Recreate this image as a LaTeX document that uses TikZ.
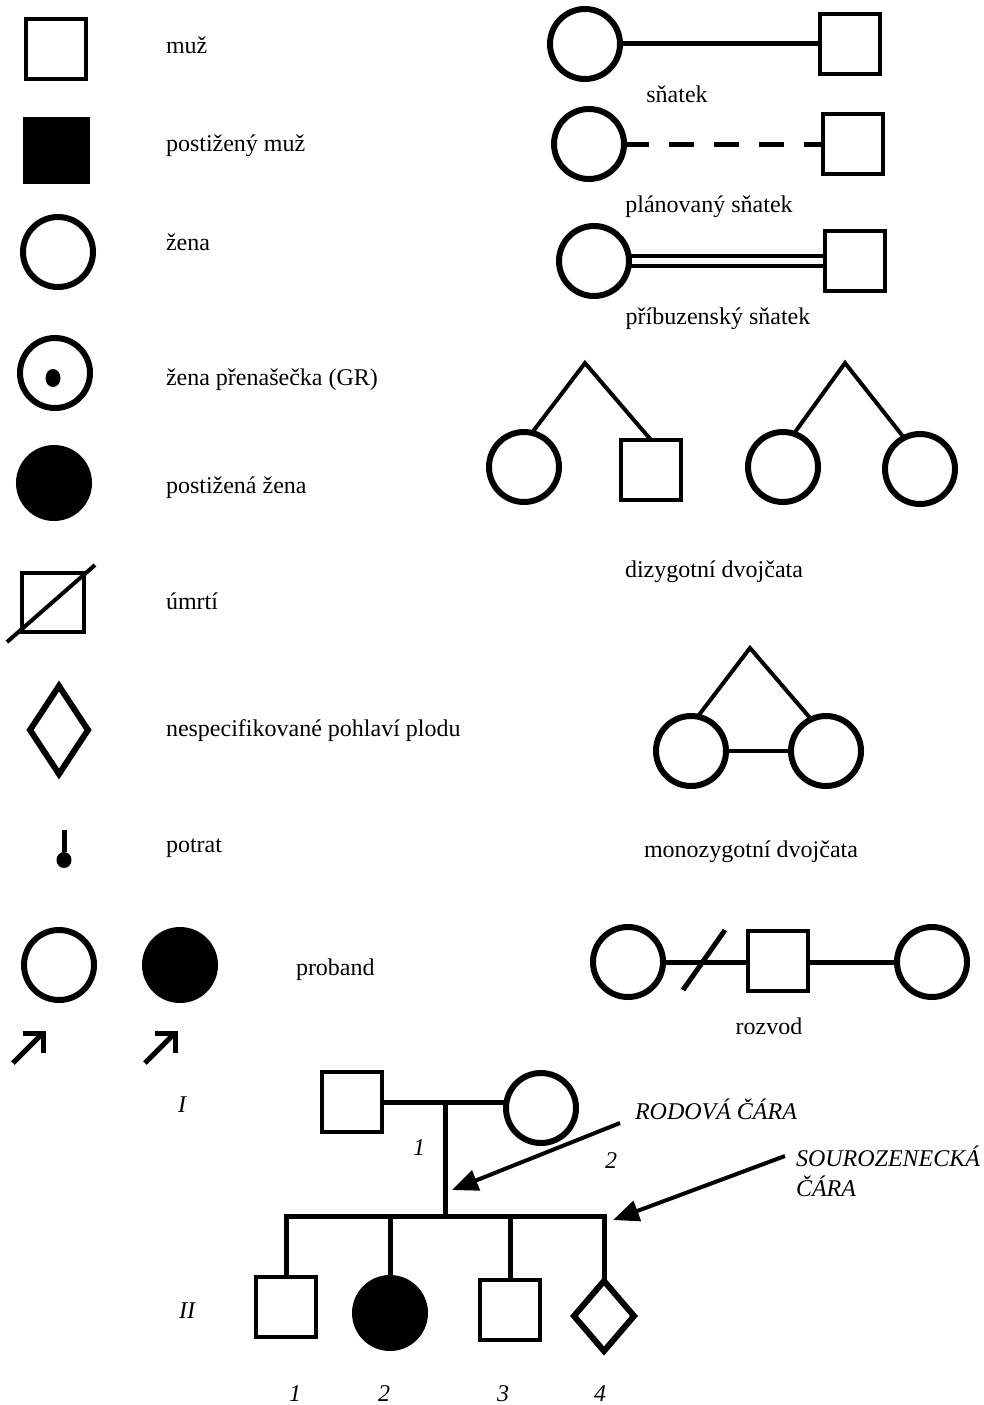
\documentclass[tikz,border=0pt]{standalone}
\usepackage{fontspec}
\setmainfont{Liberation Serif}
\usetikzlibrary{shapes.geometric,arrows.meta}
\begin{document}
\begin{tikzpicture}[x=1pt,y=-1pt,
  every node/.style={inner sep=0pt,outer sep=0pt},
  male/.style={draw,rectangle,minimum size=60pt,line width=4pt},
  affm/.style={male,fill=black,minimum size=63pt},
  female/.style={draw,circle,minimum size=70pt,line width=6pt},
  afff/.style={female,fill=black},
  fetus/.style={draw,diamond,line width=6pt},
  lbl/.style={font=\fontsize{24}{28}\selectfont,anchor=base west},
  clbl/.style={font=\fontsize{24}{28}\selectfont,anchor=base},
  ilbl/.style={font=\fontsize{24}{28}\selectfont\itshape,anchor=base},
  iwlbl/.style={font=\fontsize{24}{28}\selectfont\itshape,anchor=base west},
  link/.style={line width=5pt},
  twin/.style={line width=4pt},
  ped/.style={line width=5pt,line join=miter},
  callout/.style={line width=4pt,-{Triangle[length=26pt,width=21pt]}},
  barb/.style={line width=5pt,line join=miter},
  dot/.style={fill=black,ellipse}
]
\useasboundingbox (0,0) rectangle (983,1405);

% ---------- left legend ----------
\node[male] (lm) at (56,49) {};
\node[lbl] (tlm) at (166,54) {muž};

\node[affm] (lam) at (56,150) {};
\node[lbl] (tlam) at (166,151) {postižený muž};

\node[female] (lf) at (58,252) {};
\node[lbl] (tlf) at (166,250) {žena};

\node[female] (lc) at (55,373) {};
\node[dot,minimum width=15pt,minimum height=18pt] (lcd) at (53,378) {};
\node[lbl] (tlc) at (166,385) {žena přenašečka (GR)};

\node[afff] (laf) at (54,483) {};
\node[lbl] (tlaf) at (166,493) {postižená žena};

\node[male,minimum width=62pt,minimum height=59pt] (ld) at (53,602) {};
\coordinate (ds1) at (7,642);
\coordinate (ds2) at (95,565);
\draw[twin] (ds1) -- (ds2);
\node[lbl] (tld) at (166,609) {úmrtí};

\node[fetus,minimum width=58pt,minimum height=88pt] (lu) at (59,730) {};
\node[lbl] (tlu) at (166,736) {nespecifikované pohlaví plodu};

\coordinate (pt) at (64,830);
\node[dot,minimum width=15pt,minimum height=16pt] (ptd) at (64,860) {};
\draw[link] (pt) -- (ptd);
\node[lbl] (tpt) at (166,852) {potrat};

\node[female] (pb1) at (59,965) {};
\node[afff] (pb2) at (180,965) {};
\coordinate (pa1s) at (13,1063);
\coordinate (pa1t) at (43,1033);
\coordinate (pa2s) at (145,1063);
\coordinate (pa2t) at (175,1033);
\draw[barb] (pa1s) -- (pa1t);
\draw[barb] (pa1t) +(-20,0) -- (pa1t) -- +(0,20);
\draw[barb] (pa2s) -- (pa2t);
\draw[barb] (pa2t) +(-20,0) -- (pa2t) -- +(0,20);
\node[lbl] (tpb) at (296,975) {proband};

% ---------- right legend: marriages ----------
\node[female] (s1f) at (585,44) {};
\node[male] (s1m) at (850,44) {};
\draw[link] (s1f) -- (s1m);
\node[clbl] (ts1) at (677,102) {sňatek};

\node[female] (s2f) at (589,144) {};
\node[male] (s2m) at (853,144) {};
\draw[link,dash pattern=on 25pt off 20pt] (s2f) -- (s2m);
\node[clbl] (ts2) at (709,212) {plánovaný sňatek};

\node[female] (s3f) at (594,261) {};
\node[male] (s3m) at (855,261) {};
\draw[line width=4.5pt] ([yshift=5pt]s3f.east) -- ([yshift=5pt]s3m.west);
\draw[line width=4.5pt] ([yshift=-5pt]s3f.east) -- ([yshift=-5pt]s3m.west);
\node[clbl] (ts3) at (718,324) {příbuzenský sňatek};

% ---------- twins ----------
\coordinate (dz1) at (585,363);
\node[female] (dz1a) at (524,467) {};
\node[male] (dz1b) at (651,470) {};
\draw[twin] (dz1a.77) -- (dz1) -- (dz1b.north);
\coordinate (dz2) at (845,363);
\node[female] (dz2a) at (783,467) {};
\node[female] (dz2b) at (920,469) {};
\draw[twin] (dz2a.72) -- (dz2) -- (dz2b.117);
\node[clbl] (tdz) at (714,577) {dizygotní dvojčata};

\coordinate (mz) at (750,648);
\node[female] (mza) at (691,751) {};
\node[female] (mzb) at (826,751) {};
\draw[twin] (mza.79) -- (mz) -- (mzb.115);
\draw[twin] (mza) -- (mzb);
\node[clbl] (tmz) at (751,857) {monozygotní dvojčata};

% ---------- divorce ----------
\node[female] (r1) at (628,962) {};
\node[male] (r2) at (778,961) {};
\node[female] (r3) at (932,962) {};
\draw[link] (r1) -- (r1 -| r2.west);
\draw[link] (r2.east |- r3) -- (r3);
\coordinate (rs1) at (683,990);
\coordinate (rs2) at (725,930);
\draw[link] (rs1) -- (rs2);
\node[clbl] (tr) at (769,1034) {rozvod};

% ---------- pedigree ----------
\node[ilbl] (gI) at (182,1112) {I};
\node[ilbl] (gII) at (187,1318) {II};

\node[male] (p1) at (352,1102) {};
\node[female] (p2) at (541,1108) {};
\coordinate (mid) at (445,1102);
\coordinate (sM) at (445,1216);
\coordinate (sL) at (286,1216);
\coordinate (sR) at (604,1216);
\draw[ped] (p1.east) -- (p1.east -| p2.west);
\draw[ped] (mid) -- (sM);
\node[ilbl] (n1) at (419,1155) {1};
\node[ilbl] (n2) at (611,1168) {2};

\node[male] (c1) at (286,1307) {};
\node[afff] (c2) at (390,1313) {};
\node[male] (c3) at (510,1310) {};
\node[fetus,minimum width=60pt,minimum height=70pt] (c4) at (604,1316) {};
\draw[ped] (c1.north) -- (sL) -- (sR) -- (c4.north);
\draw[ped] (c2.north) -- (c2.north |- sL);
\draw[ped] (c3.north) -- (c3.north |- sL);
\node[ilbl] (cn1) at (295,1401) {1};
\node[ilbl] (cn2) at (384,1401) {2};
\node[ilbl] (cn3) at (503,1401) {3};
\node[ilbl] (cn4) at (600,1401) {4};

\coordinate (a1s) at (620,1123);
\coordinate (a1e) at (452,1190);
\draw[callout] (a1s) -- (a1e);
\node[iwlbl] (ta1) at (635,1119) {RODOVÁ ČÁRA};
\coordinate (a2s) at (785,1156);
\coordinate (a2e) at (613,1220);
\draw[callout] (a2s) -- (a2e);
\node[iwlbl] (ta2) at (796,1166) {SOUROZENECKÁ};
\node[iwlbl] (ta3) at (796,1196) {ČÁRA};
\end{tikzpicture}
\end{document}
